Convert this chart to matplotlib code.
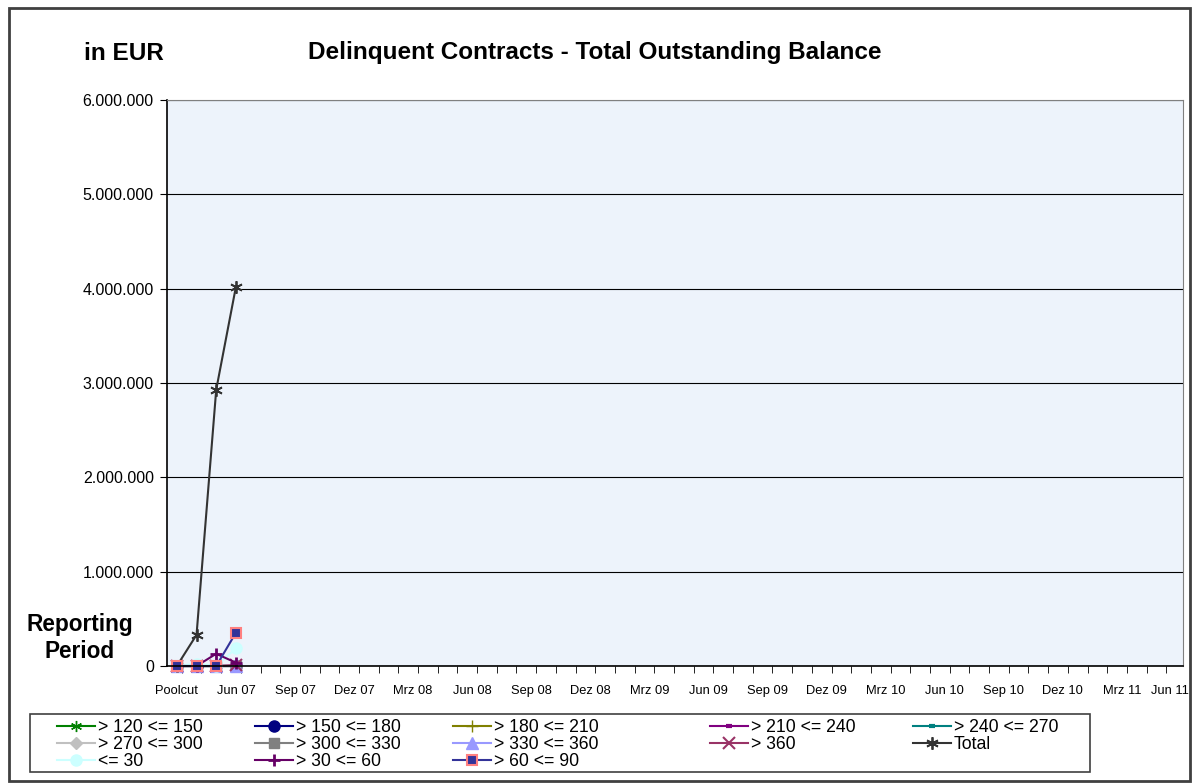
import matplotlib.pyplot as plt
import matplotlib.transforms as mtransforms
from matplotlib.ticker import FuncFormatter, MultipleLocator, FixedLocator
from matplotlib.patches import Rectangle

plt.rcParams['font.family'] = ['Liberation Sans', 'DejaVu Sans']

# categories: Poolcut then monthly reporting dates Apr 07 .. Jun 11
months = ['Jan', 'Feb', 'Mrz', 'Apr', 'Mai', 'Jun', 'Jul', 'Aug', 'Sep', 'Okt', 'Nov', 'Dez']
categories = ['Poolcut']
for yr in range(7, 12):
    for m in range(12):
        if (yr == 7 and m < 3) or (yr == 11 and m > 5):
            continue
        categories.append('%s %02d' % (months[m], yr))

# values for the first four reporting periods (EUR)
v_120_150 = [0, 0, 0, 0]
v_150_180 = [0, 0, 0, 0]
v_180_210 = [0, 0, 0, 0]
v_210_240 = [0, 0, 0, 0]
v_240_270 = [0, 0, 0, 0]
v_270_300 = [0, 0, 0, 0]
v_300_330 = [0, 0, 0, 0]
v_330_360 = [0, 0, 0, 0]
v_360 = [0, 0, 0, 10000]
v_total = [0, 330000, 2930000, 4020000]
v_le_30 = [0, 25000, 0, 188000]
v_30_60 = [0, 0, 130000, 35000]
v_60_90 = [0, 0, 0, 353000]

W, H = 1193, 783
fig = plt.figure(figsize=(W / 100, H / 100), dpi=100)
ax = fig.add_axes([167 / W, 1 - 666 / H, (1183 - 167) / W, (666 - 100) / H])
ax.set_facecolor('#EDF3FB')

x = list(range(len(v_total)))
star = (6, 2, 0)
series = [
    (v_120_150, '> 120 <= 150', dict(color='#008000', marker=star, ms=8)),
    (v_150_180, '> 150 <= 180', dict(color='#000080', marker='o', ms=8)),
    (v_180_210, '> 180 <= 210', dict(color='#808000', marker='+', ms=9)),
    (v_210_240, '> 210 <= 240', dict(color='#800080', marker='_', ms=5, mew=3)),
    (v_240_270, '> 240 <= 270', dict(color='#008080', marker='_', ms=5, mew=3)),
    (v_270_300, '> 270 <= 300', dict(color='#C0C0C0', marker='D', ms=6)),
    (v_300_330, '> 300 <= 330', dict(color='#808080', marker='s', ms=7.5)),
    (v_330_360, '> 330 <= 360', dict(color='#9999FF', marker='^', ms=8)),
    (v_360, '> 360', dict(color='#993366', marker='x', ms=8, mew=1.5)),
    (v_total, 'Total', dict(color='#333333', marker=star, ms=9, mew=1.3)),
    (v_le_30, '<= 30', dict(color='#CCFFFF', marker='o', ms=8)),
    (v_30_60, '> 30 <= 60', dict(color='#660066', marker='+', ms=9, mew=2)),
    (v_60_90, '> 60 <= 90', dict(color='#333399', marker='s', ms=7.5, mec='#FF8080', mew=1.5)),
]
handles = []
for vals, name, st in series:
    h, = ax.plot(x, vals, lw=1.5, label=name, clip_on=False, **st)
    handles.append(h)

ax.set_xlim(-0.5, len(categories) - 0.9)
ax.set_ylim(0, 6000000)
ax.yaxis.set_major_locator(MultipleLocator(1000000))
ax.yaxis.set_major_formatter(FuncFormatter(lambda v, p: '{:,.0f}'.format(v).replace(',', '.')))
ax.grid(axis='y', color='black', lw=0.8)
ax.set_axisbelow(True)

ax.xaxis.set_major_locator(FixedLocator(range(0, len(categories), 3)))
ax.set_xticklabels(categories[::3])
ax.xaxis.set_minor_locator(FixedLocator([i + 0.25 for i in range(-1, len(categories))]))
ax.tick_params(axis='x', which='major', length=0, pad=14, labelsize=9.3)
ax.tick_params(axis='x', which='minor', length=5, direction='out')
ax.tick_params(axis='y', length=5, pad=4.5, labelsize=11.5)

# last label sits at the right edge; keep it inside the figure
last = ax.get_xticklabels()[-1]
last.set_horizontalalignment('right')
last.set_transform(last.get_transform() + mtransforms.ScaledTranslation(6 / 72, 0, fig.dpi_scale_trans))

for s in ['top', 'right']:
    ax.spines[s].set_color('#808080')
for s in ['left', 'bottom']:
    ax.spines[s].set_color('black')
    ax.spines[s].set_linewidth(1.2)

fig.text(124 / W, 1 - 53 / H, 'in EUR', ha='center', va='center', fontsize=17.5, fontweight='bold')
fig.text(595 / W, 1 - 53 / H, 'Delinquent Contracts - Total Outstanding Balance',
         ha='center', va='center', fontsize=17.5, fontweight='bold')
fig.text(80 / W, 1 - 638 / H, 'Reporting\nPeriod', ha='center', va='center',
         fontsize=16.3, fontweight='bold', linespacing=1.2)

# legend: one column per legend so the columns sit where the reference has them
columns = [[0, 5, 10], [1, 6, 11], [2, 7, 12], [3, 8], [4, 9]]
col_x = [57, 255, 453, 710, 913]
for idx, cx in zip(columns, col_x):
    fig.legend([handles[i] for i in idx], [handles[i].get_label() for i in idx],
               loc='upper left', bbox_to_anchor=(cx / W, 1 - 719 / H),
               fontsize=12.7, frameon=False, handlelength=2.15, handletextpad=0.17,
               labelspacing=0.0, borderpad=0, borderaxespad=0)

fig.patches.append(Rectangle((29.5 / W, 1 - 772 / H), (1090 - 29.5) / W, 58 / H,
                             transform=fig.transFigure, fill=False, edgecolor='#404040', lw=1.2))
fig.patches.append(Rectangle((9 / W, 1 - 781 / H), 1181 / W, 773 / H, transform=fig.transFigure,
                             fill=False, edgecolor='#404040', lw=2))

fig.savefig('out.png', dpi=100)
